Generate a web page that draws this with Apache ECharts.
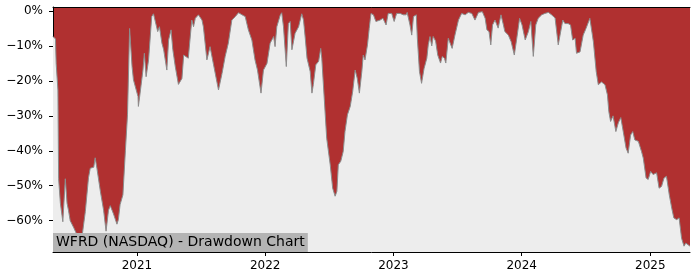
<!DOCTYPE html>
<html>
<head>
<meta charset="utf-8">
<script src="https://cdn.jsdelivr.net/npm/echarts@6/dist/echarts.min.js"></script>
<style>html,body{margin:0;padding:0;background:#fff}#c{width:700px;height:280px}</style>
</head>
<body>
<div id="c"></div>
<script>
var dates = [
'2020-05-07','2020-05-14','2020-05-16','2020-05-21','2020-05-23','2020-05-28','2020-06-04','2020-06-11','2020-06-16','2020-06-20',
'2020-06-25','2020-07-05','2020-07-14','2020-07-22','2020-07-28','2020-08-07','2020-08-16','2020-08-21','2020-08-31','2020-09-04',
'2020-09-09','2020-09-19','2020-09-28','2020-10-05','2020-10-12','2020-10-17','2020-10-26','2020-11-05','2020-11-09','2020-11-14',
'2020-11-22','2020-11-29','2020-12-05','2020-12-11','2020-12-18','2020-12-22','2021-01-04','2021-01-05','2021-01-11','2021-01-18',
'2021-01-22','2021-01-27','2021-02-03','2021-02-12','2021-02-17','2021-02-22','2021-03-01','2021-03-06','2021-03-13','2021-03-18',
'2021-03-27','2021-04-01','2021-04-08','2021-04-13','2021-04-20','2021-04-29','2021-05-09','2021-05-14','2021-05-18','2021-05-27',
'2021-06-06','2021-06-11','2021-06-16','2021-06-25','2021-07-05','2021-07-09','2021-07-19','2021-07-28','2021-08-07','2021-08-21',
'2021-08-31','2021-09-09','2021-09-18','2021-09-28','2021-10-08','2021-10-17','2021-10-27','2021-11-05','2021-11-14','2021-11-24',
'2021-12-03','2021-12-10','2021-12-20','2021-12-27','2022-01-06','2022-01-15','2022-01-25','2022-01-29','2022-02-03','2022-02-13',
'2022-02-17','2022-02-22','2022-03-02','2022-03-08','2022-03-13','2022-03-18','2022-03-27','2022-04-06','2022-04-15','2022-04-20',
'2022-04-25','2022-04-30','2022-05-09','2022-05-14','2022-05-18','2022-05-25','2022-06-02','2022-06-08','2022-06-11','2022-06-18',
'2022-06-25','2022-07-05','2022-07-12','2022-07-19','2022-07-24','2022-07-28','2022-08-04','2022-08-11','2022-08-16','2022-08-23',
'2022-08-31','2022-09-07','2022-09-14','2022-09-20','2022-09-26','2022-10-03','2022-10-07','2022-10-12','2022-10-19','2022-10-24',
'2022-10-29','2022-11-05','2022-11-12','2022-11-24','2022-12-02','2022-12-11','2022-12-17','2022-12-27','2023-01-03','2023-01-10',
'2023-01-20','2023-01-29','2023-02-06','2023-02-09','2023-02-17','2023-02-22','2023-02-27','2023-03-07','2023-03-10','2023-03-16',
'2023-03-22','2023-03-29','2023-04-06','2023-04-10','2023-04-15','2023-04-20','2023-04-24','2023-05-01','2023-05-07','2023-05-15',
'2023-05-20','2023-05-26','2023-05-30','2023-06-06','2023-06-11','2023-06-17','2023-06-25','2023-07-05','2023-07-14','2023-07-24',
'2023-08-02','2023-08-12','2023-08-21','2023-08-31','2023-09-11','2023-09-19','2023-09-24','2023-09-30','2023-10-05','2023-10-10',
'2023-10-17','2023-10-22','2023-10-26','2023-11-03','2023-11-10','2023-11-14','2023-11-24','2023-12-02','2023-12-11','2023-12-18',
'2023-12-26','2024-01-02','2024-01-11','2024-01-20','2024-01-27','2024-02-03','2024-02-10','2024-02-17','2024-02-27','2024-03-07',
'2024-03-17','2024-03-26','2024-04-05','2024-04-14','2024-04-27','2024-05-03','2024-05-12','2024-05-19','2024-05-25','2024-06-01',
'2024-06-05','2024-06-15','2024-06-24','2024-07-02','2024-07-06','2024-07-13','2024-07-18','2024-07-23','2024-07-31','2024-08-06',
'2024-08-15','2024-08-25','2024-09-01','2024-09-05','2024-09-10','2024-09-17','2024-09-25','2024-10-02','2024-10-09','2024-10-16',
'2024-10-24','2024-10-30','2024-11-06','2024-11-12','2024-11-18','2024-11-28','2024-12-07','2024-12-12','2024-12-20','2024-12-26',
'2025-01-02','2025-01-09','2025-01-19','2025-01-26','2025-02-02','2025-02-09','2025-02-16','2025-02-24','2025-03-03','2025-03-09',
'2025-03-17','2025-03-24','2025-03-31','2025-04-07','2025-04-12','2025-04-24'
];
var drawdown = [
-7.3,-8,-15,-22.6,-48,-55,-60.3,-48,-55,-57,
-60,-62,-64,-68,-65,-57.4,-47.7,-45,-44.7,-42,
-45,-51.7,-57,-63,-57,-55.7,-58,-61,-59.7,-55.4,
-52.6,-40,-29.7,-5,-15.9,-19.7,-24.5,-27.3,-22.6,-16.9,
-12.1,-18.8,-14,-1.6,-0.8,-1.1,-5.9,-4.5,-9.2,-11.1,
-16.9,-8.3,-5.4,-11,-15.9,-21,-19.3,-12.6,-13,-13.5,
-2.6,-4.5,-2.1,-1.1,-2.6,-4.5,-14,-10.2,-15.4,-22.6,
-17.9,-13,-9.2,-2.6,-1.6,-0.5,-1.1,-1.6,-5.4,-8.3,
-14,-16.9,-23.5,-16.9,-15,-9.2,-7.3,-10.2,-4.5,-1.1,
-0.5,-4.5,-15.9,-3.6,-3,-11.1,-6.4,-4.5,-0.8,-2.6,
-7.8,-13.5,-17.3,-23.5,-21,-15.4,-14.4,-10.7,-13.5,-25,
-36.4,-44,-50.7,-53,-51.6,-44,-43,-40.2,-34.5,-29.7,
-27.3,-23,-16.9,-19.3,-23.5,-17.3,-12.6,-14,-9.7,-5,
-0.7,-1.1,-3,-2.6,-2.1,-4,-0.7,-0.7,-3,-0.7,
-0.7,-1.1,-1.1,-0.4,-4,-6.9,-1.6,-1.1,-7.8,-17.3,
-20.7,-16.5,-13.5,-9.7,-7.3,-10,-7.3,-8.6,-12.6,-14.9,
-13,-13.5,-14.9,-7.8,-7.3,-10.7,-6.9,-2.6,-0.7,-1.1,
-0.4,-0.7,-2.6,-0.4,-0.2,-2.1,-5.4,-5.9,-9.7,-4,
-2.6,-3,-4.9,-1.1,-4,-5.9,-6.9,-8.8,-12.6,-7.8,
-2.1,-4,-8.3,-5.9,-3,-13,-4,-2.1,-1.1,-0.7,
-0.4,-1.1,-2,-9.7,-2.6,-3.6,-3.6,-4,-8.3,-7.8,
-12.1,-11.7,-6.9,-5,-5.4,-2.1,-1.6,-8.8,-17.3,-21.1,
-20.3,-21.1,-24,-28.8,-31.6,-30,-34.5,-32,-30.5,-34.5,
-39.2,-40.7,-35.5,-34.5,-36.9,-37.3,-40.2,-42.1,-47.8,-48.2,
-45.9,-46.8,-46.3,-50.7,-50.2,-47.8,-47.3,-52.6,-56.4,-59.2,
-59.7,-59.2,-65,-67.3,-66.4,-67.3
];
var yTicks = [0, -10, -20, -30, -40, -50, -60];
var xTickYears = ['2021-01-01', '2022-01-01', '2023-01-01', '2024-01-01', '2025-01-01'];
var titleText = 'WFRD (NASDAQ) - Drawdown Chart';

function ts(s) { return +new Date(s + 'T00:00:00Z'); }
var seriesData = dates.map(function (d, i) { return [ts(d), drawdown[i]]; });
var xTickVals = xTickYears.map(ts);
var xMin = ts(dates[0]), xMax = ts(dates[dates.length - 1]);
var font = 'DejaVu Sans';

var chart = echarts.init(document.getElementById('c'), null, {renderer: 'canvas'});
chart.setOption({
  animation: false,
  backgroundColor: '#ffffff',
  title: {
    text: titleText,
    left: 53, top: 233,
    backgroundColor: '#b4b4b4',
    padding: [2, 3, 2, 3],
    textStyle: {fontFamily: font, fontSize: 14, fontWeight: 'normal', color: '#000', lineHeight: 15}
  },
  grid: {left: 53, right: 10, top: 7, bottom: 28, show: true, backgroundColor: '#b03030', borderWidth: 0},
  xAxis: [{
    type: 'value',
    min: xMin, max: xMax,
    axisLine: {show: true, onZero: false, lineStyle: {color: '#000', width: 1}},
    axisTick: {show: true, length: 4, lineStyle: {color: '#000'}, customValues: xTickVals},
    axisLabel: {
      customValues: xTickVals, margin: 8, fontFamily: font, fontSize: 12, color: '#000',
      formatter: function (v) { return String(new Date(v).getUTCFullYear()); }
    },
    splitLine: {show: false}
  }, {
    type: 'value', position: 'top',
    min: xMin, max: xMax,
    axisLine: {show: true, onZero: false, lineStyle: {color: '#000', width: 1}},
    axisTick: {show: false}, axisLabel: {show: false}, splitLine: {show: false}
  }],
  yAxis: {
    type: 'value', min: -68.96, max: 1.14,
    axisLine: {show: true, onZero: false, lineStyle: {color: '#000', width: 1}},
    axisTick: {show: true, length: 4, lineStyle: {color: '#000'}, customValues: yTicks},
    axisLabel: {
      customValues: yTicks, margin: 10, fontFamily: font, fontSize: 12, color: '#000',
      formatter: function (v) { return (v < 0 ? '\u2212' : '') + Math.abs(v) + '%'; }
    },
    splitLine: {show: false}
  },
  series: [{
    type: 'line',
    data: seriesData,
    showSymbol: false,
    symbol: 'none',
    lineStyle: {color: '#8c8c8c', width: 1},
    areaStyle: {color: '#ededed', opacity: 1, origin: 'start'},
    z: 2
  }]
});
</script>
</body>
</html>
